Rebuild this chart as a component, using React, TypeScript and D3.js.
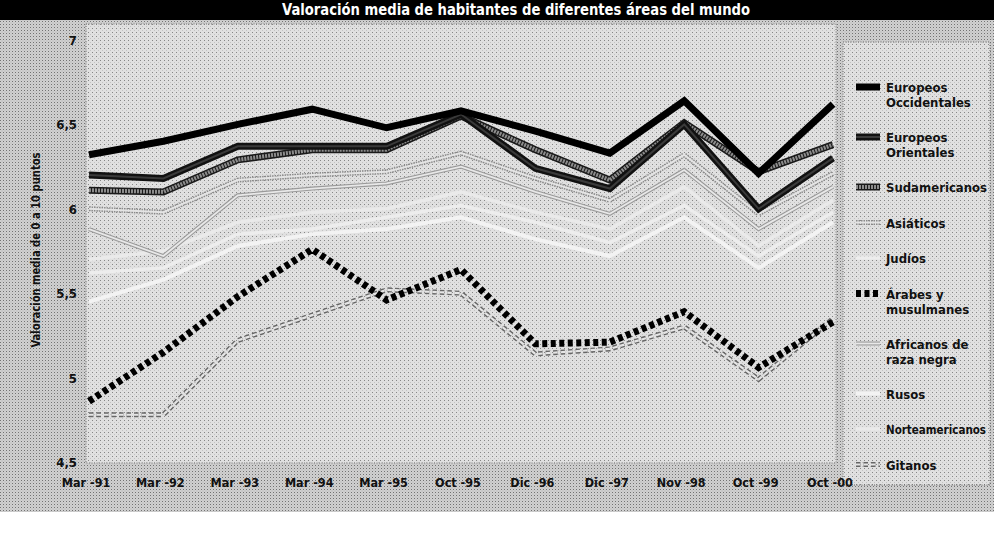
import React from "react";
import * as d3 from "d3";

const months = ["Mar -91", "Mar -92", "Mar -93", "Mar -94", "Mar -95", "Oct -95", "Dic -96", "Dic -97", "Nov -98", "Oct -99", "Oct -00"];
const yTicks = [4.5, 5, 5.5, 6, 6.5, 7];

const europeosOccidentales = [6.32, 6.40, 6.50, 6.59, 6.48, 6.58, 6.46, 6.33, 6.64, 6.21, 6.62];
const europeosOrientales = [6.20, 6.18, 6.37, 6.37, 6.37, 6.56, 6.24, 6.12, 6.50, 6.00, 6.30];
const sudamericanos = [6.11, 6.10, 6.29, 6.35, 6.35, 6.55, 6.35, 6.17, 6.51, 6.22, 6.38];
const asiaticos = [6.00, 5.98, 6.17, 6.20, 6.22, 6.33, 6.18, 6.05, 6.32, 5.97, 6.21];
const judios = [5.62, 5.65, 5.85, 5.88, 5.95, 6.02, 5.92, 5.80, 6.02, 5.72, 5.98];
const arabes = [4.86, 5.15, 5.48, 5.76, 5.46, 5.64, 5.20, 5.21, 5.39, 5.06, 5.33];
const africanos = [5.88, 5.72, 6.08, 6.12, 6.15, 6.25, 6.10, 5.97, 6.23, 5.88, 6.13];
const rusos = [5.45, 5.58, 5.78, 5.85, 5.88, 5.95, 5.82, 5.72, 5.95, 5.65, 5.92];
const norteamericanos = [5.70, 5.75, 5.92, 5.98, 6.00, 6.10, 5.98, 5.88, 6.13, 5.78, 6.05];
const gitanos = [4.78, 4.78, 5.22, 5.37, 5.52, 5.50, 5.14, 5.17, 5.30, 4.99, 5.35];

const legendLabels = [
  ["Europeos", "Occidentales"],
  ["Europeos", "Orientales"],
  ["Sudamericanos"],
  ["Asiáticos"],
  ["Judíos"],
  ["Árabes y", "musulmanes"],
  ["Africanos de", "raza negra"],
  ["Rusos"],
  ["Norteamericanos"],
  ["Gitanos"],
];

type Stroke = { color: string; width: number; dash?: string };
const seriesList: { values: number[]; strokes: Stroke[] }[] = [
  { values: europeosOccidentales, strokes: [{ color: "#000", width: 7 }] },
  { values: europeosOrientales, strokes: [{ color: "#111", width: 7 }, { color: "#3a3a3a", width: 2 }] },
  { values: sudamericanos, strokes: [{ color: "#1a1a1a", width: 7 }, { color: "#8c8c8c", width: 4, dash: "2 1" }] },
  { values: asiaticos, strokes: [{ color: "#8a8a8a", width: 5, dash: "1.5 1" }, { color: "#e4e4e4", width: 2 }] },
  { values: judios, strokes: [{ color: "#ededed", width: 3.5 }] },
  { values: arabes, strokes: [{ color: "#000", width: 7, dash: "5 3.5" }] },
  { values: africanos, strokes: [{ color: "#9a9a9a", width: 4 }, { color: "#e8e8e8", width: 1.8 }] },
  { values: rusos, strokes: [{ color: "#f3f3f3", width: 4 }] },
  { values: norteamericanos, strokes: [{ color: "#eaeaea", width: 3.5 }] },
  { values: gitanos, strokes: [{ color: "#666", width: 5, dash: "4.5 3" }, { color: "#e6e6e6", width: 2.2, dash: "4.5 3" }] },
];
const drawOrder = [4, 7, 8, 6, 3, 9, 5, 2, 1, 0];

const W = 994;
const H = 536;
const font = "'DejaVu Sans', sans-serif";

export default function App() {
  const x = d3.scalePoint<string>().domain(months).range([89, 833]);
  const y = d3.scaleLinear().domain([4.5, 7]).range([462, 40]);
  const fmt = d3.formatLocale({ decimal: ",", thousands: ".", grouping: [3], currency: ["", "€"] }).format(".1~f");
  const line = d3
    .line<number>()
    .x((_, i) => x(months[i]) as number)
    .y((d) => y(d));

  const legendYs: number[] = [];
  let ly = 87;
  legendLabels.forEach((lab) => {
    legendYs.push(ly);
    ly += 35.5 + (lab.length - 1) * 14.5;
  });

  const txt = { fontFamily: font, fontWeight: "bold" as const, fontStretch: "condensed" };

  return (
    <svg width={W} height={H} style={{ position: "absolute", left: 0, top: 0, display: "block", background: "#fff" }}>
      <defs>
        <pattern id="dotsA" width="3" height="3" patternUnits="userSpaceOnUse">
          <rect x="0" y="0" width="1" height="1" fill="#000" opacity="0.45" />
          <rect x="1.5" y="1.5" width="1" height="1" fill="#777" opacity="0.35" />
        </pattern>
        <pattern id="dotsB" width="4" height="4" patternUnits="userSpaceOnUse">
          <rect x="0" y="0" width="1" height="1" fill="#000" opacity="0.4" />
          <rect x="2" y="2" width="1" height="1" fill="#888" opacity="0.35" />
        </pattern>
      </defs>
      <rect x={0} y={0} width={W} height={512} fill="#d0d0d0" />
      <rect x={0} y={0} width={W} height={512} fill="url(#dotsA)" />
      <rect x={86} y={24} width={750} height={439} fill="#e0e0e0" />
      <rect x={86} y={24} width={750} height={439} fill="url(#dotsB)" />
      <rect x={86} y={24} width={750} height={439} fill="none" stroke="#777" strokeWidth={1} strokeDasharray="1 1.5" />
      <rect x={843} y={42} width={147} height={443} fill="#e0e0e0" />
      <rect x={843} y={42} width={147} height={443} fill="url(#dotsB)" />
      <rect x={843} y={42} width={147} height={443} fill="none" stroke="#666" strokeWidth={1} strokeDasharray="1 1.5" />

      <rect x={0} y={0} width={W} height={20} fill="#000" />
      <text x={516} y={15} fill="#fff" {...txt} fontSize={15} textAnchor="middle" textLength={468} lengthAdjust="spacingAndGlyphs">
        Valoración media de habitantes de diferentes áreas del mundo
      </text>

      {yTicks.map((t) => (
        <text key={t} x={77} y={y(t) + 5} {...txt} fontSize={13} textAnchor="end" fill="#111">
          {fmt(t)}
        </text>
      ))}
      <text
        transform={`translate(40,250) rotate(-90)`}
        {...txt}
        fontSize={12}
        textAnchor="middle"
        fill="#111"
        textLength={195}
        lengthAdjust="spacingAndGlyphs"
      >
        Valoración media de 0 a 10 puntos
      </text>

      {months.map((m) => (
        <text key={m} x={(x(m) as number) - 3} y={487} {...txt} fontSize={12.5} textAnchor="middle" fill="#111">
          {m}
        </text>
      ))}

      {drawOrder.map((si) => {
        const s = seriesList[si];
        const d = line(s.values) || "";
        return (
          <g key={si}>
            {s.strokes.map((st, k) => (
              <path key={k} d={d} fill="none" stroke={st.color} strokeWidth={st.width} strokeDasharray={st.dash} strokeLinejoin="miter" strokeLinecap="butt" />
            ))}
          </g>
        );
      })}

      {legendLabels.map((lab, i) => {
        const cy = legendYs[i];
        const s = seriesList[i];
        return (
          <g key={i}>
            {s.strokes.map((st, k) => (
              <line key={k} x1={856} x2={880} y1={cy} y2={cy} stroke={st.color} strokeWidth={st.width} strokeDasharray={st.dash} />
            ))}
            {lab.map((t, j) => (
              <text key={j} x={886} y={cy + 5 + j * 15} {...txt} fontSize={lab[0].length > 13 ? 11.5 : 13} fill="#111">
                {t}
              </text>
            ))}
          </g>
        );
      })}
    </svg>
  );
}
